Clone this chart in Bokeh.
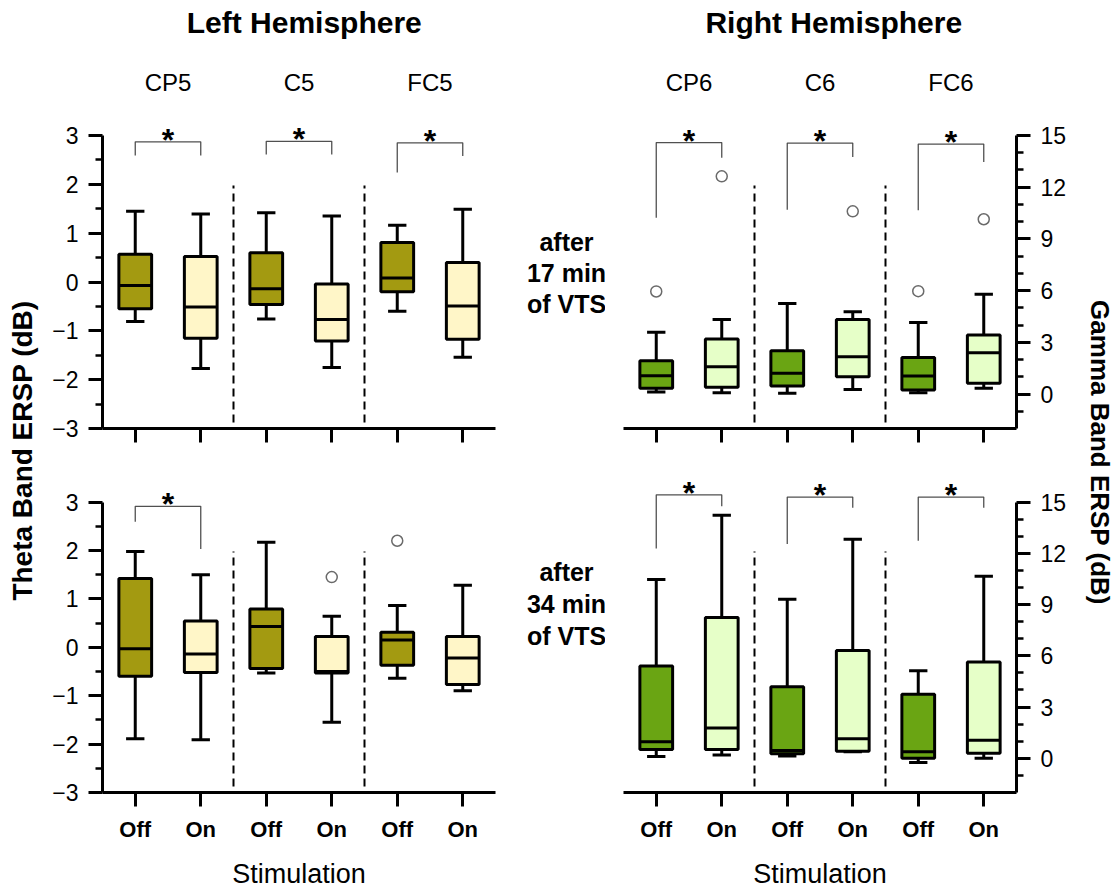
import math
from bokeh.plotting import figure
from bokeh.models import Range1d, FixedTicker, ColumnDataSource
from bokeh.layouts import row, column
from bokeh.embed import file_html
from bokeh.resources import INLINE
from bokeh.core.properties import value

FONT = "Liberation Sans"

# ---------------------------------------------------------------- data
positions = [1, 2, 3, 4, 5, 6]
conditions = ["Off", "On", "Off", "On", "Off", "On"]
left_channels = ["CP5", "C5", "FC5"]
right_channels = ["CP6", "C6", "FC6"]

# Theta band ERSP (dB), after 17 min of VTS
theta17_low = [-0.81, -1.77, -0.76, -1.75, -0.60, -1.54]
theta17_q1 = [-0.55, -1.15, -0.46, -1.21, -0.20, -1.17]
theta17_med = [-0.07, -0.51, -0.14, -0.77, 0.08, -0.49]
theta17_q3 = [0.57, 0.52, 0.60, -0.04, 0.81, 0.40]
theta17_high = [1.45, 1.39, 1.42, 1.35, 1.16, 1.49]
theta17_out_x = []
theta17_out_y = []

# Theta band ERSP (dB), after 34 min of VTS
theta34_low = [-1.89, -1.91, -0.53, -1.55, -0.64, -0.90]
theta34_q1 = [-0.60, -0.52, -0.44, -0.53, -0.37, -0.77]
theta34_med = [-0.03, -0.14, 0.43, -0.50, 0.15, -0.22]
theta34_q3 = [1.42, 0.54, 0.79, 0.22, 0.31, 0.22]
theta34_high = [1.98, 1.50, 2.17, 0.64, 0.86, 1.28]
theta34_out_x = [4, 5]
theta34_out_y = [1.45, 2.20]

# Gamma band ERSP (dB), after 17 min of VTS
gamma17_low = [0.12, 0.08, 0.04, 0.27, 0.08, 0.33]
gamma17_q1 = [0.33, 0.39, 0.46, 1.00, 0.23, 0.62]
gamma17_med = [1.06, 1.58, 1.20, 2.16, 1.04, 2.39]
gamma17_q3 = [1.93, 3.19, 2.51, 4.32, 2.12, 3.42]
gamma17_high = [3.59, 4.32, 5.25, 4.77, 4.15, 5.79]
gamma17_out_x = [1, 2, 4, 5, 6]
gamma17_out_y = [5.95, 12.63, 10.60, 5.97, 10.14]

# Gamma band ERSP (dB), after 34 min of VTS
gamma34_low = [0.10, 0.19, 0.14, 0.39, -0.25, 0.00]
gamma34_q1 = [0.52, 0.52, 0.27, 0.42, 0.00, 0.29]
gamma34_med = [0.97, 1.78, 0.46, 1.14, 0.39, 1.06]
gamma34_q3 = [5.41, 8.24, 4.19, 6.31, 3.75, 5.64]
gamma34_high = [10.46, 14.23, 9.31, 12.82, 5.12, 10.66]

# significance brackets: pair index, bar height, left / right leg ends
theta17_sig_pair = [0, 1, 2]
theta17_sig_top = [2.87, 2.88, 2.85]
theta17_sig_left = [2.59, 2.61, 2.24]
theta17_sig_right = [2.59, 2.61, 2.58]

theta34_sig_pair = [0]
theta34_sig_top = [2.91]
theta34_sig_left = [2.59]
theta34_sig_right = [2.03]

gamma17_sig_pair = [0, 1, 2]
gamma17_sig_top = [14.59, 14.56, 14.50]
gamma17_sig_left = [10.23, 10.69, 10.66]
gamma17_sig_right = [13.71, 13.75, 13.46]

gamma34_sig_pair = [0, 1, 2]
gamma34_sig_top = [15.42, 15.29, 15.29]
gamma34_sig_left = [12.28, 12.55, 12.74]
gamma34_sig_right = [14.75, 14.67, 14.67]

# ---------------------------------------------------------------- styling
THETA_OFF, THETA_ON = "#a39a11", "#fff6c8"
GAMMA_OFF, GAMMA_ON = "#6aa513", "#e6ffc8"

AXIS_PX = 293          # pixel length of the value axes
THETA = dict(start=-3.0, stop=3.0, ppu=AXIS_PX / 6.0)
GAMMA = dict(start=-2.0, stop=15.0, ppu=AXIS_PX / 17.0)

TOP_FRAME_BOTTOM = 428   # page row of the upper panels' x axis


def style_axis(ax):
    ax.axis_line_width = 3
    ax.axis_line_color = "black"
    ax.major_tick_line_width = 3
    ax.major_tick_line_color = "black"
    ax.major_tick_out = 14
    ax.major_tick_in = 0
    ax.minor_tick_line_width = 2.5
    ax.minor_tick_line_color = "black"
    ax.minor_tick_out = 7
    ax.minor_tick_in = 0
    ax.major_label_text_font = FONT
    ax.major_label_text_color = "black"


def y_at(band, frame_bottom_px, py):
    """value of a band scale at a page pixel row"""
    return band["start"] + (frame_bottom_px - py) / band["ppu"]


def panel(band, low, q1, med, q3, high, out_x, out_y,
          sig_pair, sig_top, sig_left, sig_right,
          colors, top_row, right_side, width, height, borders):
    bl, br, bt, bb = borders
    frame_h = height - bt - bb
    ystart = band["start"]
    yend = band["start"] + frame_h / band["ppu"]
    p = figure(width=width, height=height, output_backend="svg",
               toolbar_location=None,
               x_range=Range1d(0.5, 6.5), y_range=Range1d(ystart, yend),
               y_axis_location="right" if right_side else "left",
               min_border_left=bl, min_border_right=br,
               min_border_top=bt, min_border_bottom=bb,
               background_fill_color="white", border_fill_color="white")
    p.outline_line_color = None
    p.xgrid.visible = False
    p.ygrid.visible = False

    # value axis
    ya = p.yaxis[0]
    style_axis(ya)
    ya.major_label_text_font_size = "23px"
    ya.major_label_standoff = 10
    ya.bounds = (band["start"], band["stop"])
    if right_side:
        ya.ticker = FixedTicker(ticks=[0, 3, 6, 9, 12, 15],
                                minor_ticks=[v for v in range(-1, 15) if v % 3])
    else:
        ya.ticker = FixedTicker(ticks=[-3, -2, -1, 0, 1, 2, 3],
                                minor_ticks=[-2.5, -1.5, -0.5, 0.5, 1.5, 2.5])

    # condition axis
    xa = p.xaxis[0]
    style_axis(xa)
    xa.ticker = FixedTicker(ticks=positions, minor_ticks=[])
    if top_row:
        xa.major_label_overrides = {x: "" for x in positions}
        xa.major_label_text_font_size = "1px"
        xa.major_label_standoff = 0
    else:
        xa.major_label_overrides = {x: c for x, c in zip(positions, conditions)}
        xa.major_label_text_font_size = "22px"
        xa.major_label_text_font_style = "bold"
        xa.major_label_standoff = 10
        xa.axis_label = "Stimulation"
        xa.axis_label_text_font = FONT
        xa.axis_label_text_font_style = "normal"
        xa.axis_label_text_font_size = "27px"
        xa.axis_label_text_color = "black"
        xa.axis_label_standoff = 14

    src = ColumnDataSource(dict(
        x=positions, low=low, q1=q1, med=med, q3=q3, high=high,
        color=colors,
        bx0=[x - 0.25 for x in positions], bx1=[x + 0.25 for x in positions],
        cx0=[x - 0.14 for x in positions], cx1=[x + 0.14 for x in positions],
    ))

    # electrode separators
    sep_lo = y_at(band, TOP_FRAME_BOTTOM, 422)
    sep_hi = y_at(band, TOP_FRAME_BOTTOM, 185)
    p.segment(x0=[2.5, 4.5], y0=[sep_lo, sep_lo], x1=[2.5, 4.5], y1=[sep_hi, sep_hi],
              line_color="black", line_width=2, line_dash="8 5")

    # whiskers and caps
    wk = dict(line_color="black", line_width=3)
    p.segment(x0="x", y0="q3", x1="x", y1="high", source=src, **wk)
    p.segment(x0="x", y0="q1", x1="x", y1="low", source=src, **wk)
    p.segment(x0="cx0", y0="high", x1="cx1", y1="high", source=src, **wk)
    p.segment(x0="cx0", y0="low", x1="cx1", y1="low", source=src, **wk)

    # boxes and medians
    p.vbar(x="x", width=0.5, bottom="q1", top="q3", fill_color="color",
           line_color="black", line_width=3, source=src)
    p.segment(x0="bx0", y0="med", x1="bx1", y1="med", source=src, **wk)

    # outliers
    if out_x:
        p.scatter(x=out_x, y=out_y, marker="circle", size=11,
                  fill_color="white", line_color="#6a6a6a", line_width=1.5)

    # significance brackets
    xs, ys, sx, sy = [], [], [], []
    for k, top, lft, rgt in zip(sig_pair, sig_top, sig_left, sig_right):
        a, b = positions[2 * k], positions[2 * k + 1]
        xs.append([a, a, b, b])
        ys.append([lft, top, top, rgt])
        sx.append((a + b) / 2)
        sy.append(top + 2.0 / band["ppu"])
    if xs:
        p.multi_line(xs=xs, ys=ys, line_color="#505050", line_width=1.3)
        p.text(x=sx, y=sy, text=["*"] * len(sx), text_font=value(FONT),
               text_font_style="bold", text_font_size="32px",
               text_align="center", text_baseline="middle")
    return p


def text_column(width, items):
    """column of free text; items = (x, page_y, text, size, angle)"""
    f = figure(width=width, height=891, output_backend="svg", toolbar_location=None,
               x_range=Range1d(0, width), y_range=Range1d(0, 891),
               x_axis_location=None, y_axis_location=None, min_border=0,
               background_fill_color="white", border_fill_color="white")
    f.outline_line_color = None
    f.xgrid.visible = False
    f.ygrid.visible = False
    for x, py, t, size, ang in items:
        f.text(x=[x], y=[891 - py], text=[t], text_font=value(FONT),
               text_font_style="bold", text_font_size=size, angle=ang,
               text_align="center", text_baseline="middle", text_color="black")
    return f


theta_cols = [THETA_OFF, THETA_ON] * 3
gamma_cols = [GAMMA_OFF, GAMMA_ON] * 3

LW, RW = 485, 470
TOP_H, BOT_H = 445, 446
left_borders_top = (62, 30, 0, 17)
left_borders_bot = (62, 30, 0, 96)
right_borders_top = (18, 59, 0, 17)
right_borders_bot = (18, 59, 0, 96)

tl = panel(THETA, theta17_low, theta17_q1, theta17_med, theta17_q3, theta17_high,
           theta17_out_x, theta17_out_y,
           theta17_sig_pair, theta17_sig_top, theta17_sig_left, theta17_sig_right,
           theta_cols, True, False, LW, TOP_H, left_borders_top)
bl = panel(THETA, theta34_low, theta34_q1, theta34_med, theta34_q3, theta34_high,
           theta34_out_x, theta34_out_y,
           theta34_sig_pair, theta34_sig_top, theta34_sig_left, theta34_sig_right,
           theta_cols, False, False, LW, BOT_H, left_borders_bot)
tr = panel(GAMMA, gamma17_low, gamma17_q1, gamma17_med, gamma17_q3, gamma17_high,
           gamma17_out_x, gamma17_out_y,
           gamma17_sig_pair, gamma17_sig_top, gamma17_sig_left, gamma17_sig_right,
           gamma_cols, True, True, RW, TOP_H, right_borders_top)
br = panel(GAMMA, gamma34_low, gamma34_q1, gamma34_med, gamma34_q3, gamma34_high,
           [], [],
           gamma34_sig_pair, gamma34_sig_top, gamma34_sig_left, gamma34_sig_right,
           gamma_cols, False, True, RW, BOT_H, right_borders_bot)

# hemisphere headings and electrode names above the upper panels
heading_kw = dict(text_font=value(FONT), text_align="center", text_baseline="middle",
                  text_color="black")
tl.text(x=[3.58], y=[y_at(THETA, TOP_FRAME_BOTTOM, 22)], text=["Left Hemisphere"],
        text_font_style="bold", text_font_size="30px", **heading_kw)
tr.text(x=[3.71], y=[y_at(GAMMA, TOP_FRAME_BOTTOM, 22)], text=["Right Hemisphere"],
        text_font_style="bold", text_font_size="30px", **heading_kw)
for p, names, band in ((tl, left_channels, THETA), (tr, right_channels, GAMMA)):
    p.text(x=[positions[2 * i] + 0.5 for i in range(len(names))],
           y=[y_at(band, TOP_FRAME_BOTTOM, 82)] * len(names), text=names,
           text_font_size="24px", **heading_kw)

left_label = text_column(40, [(22, 450, "Theta Band ERSP (dB)", "28px", math.pi / 2)])
right_label = text_column(43, [(24, 452, "Gamma Band ERSP (dB)", "26px", -math.pi / 2)])
middle = text_column(80, [
    (41, 241, "after", "25px", 0),
    (41, 272, "17 min", "25px", 0),
    (41, 303, "of VTS", "25px", 0),
    (41, 571, "after", "25px", 0),
    (41, 603, "34 min", "25px", 0),
    (41, 635, "of VTS", "25px", 0),
])

layout = row(left_label, column(tl, bl), middle, column(tr, br), right_label)

with open("out.html", "w") as fh:
    fh.write(file_html(layout, INLINE))
